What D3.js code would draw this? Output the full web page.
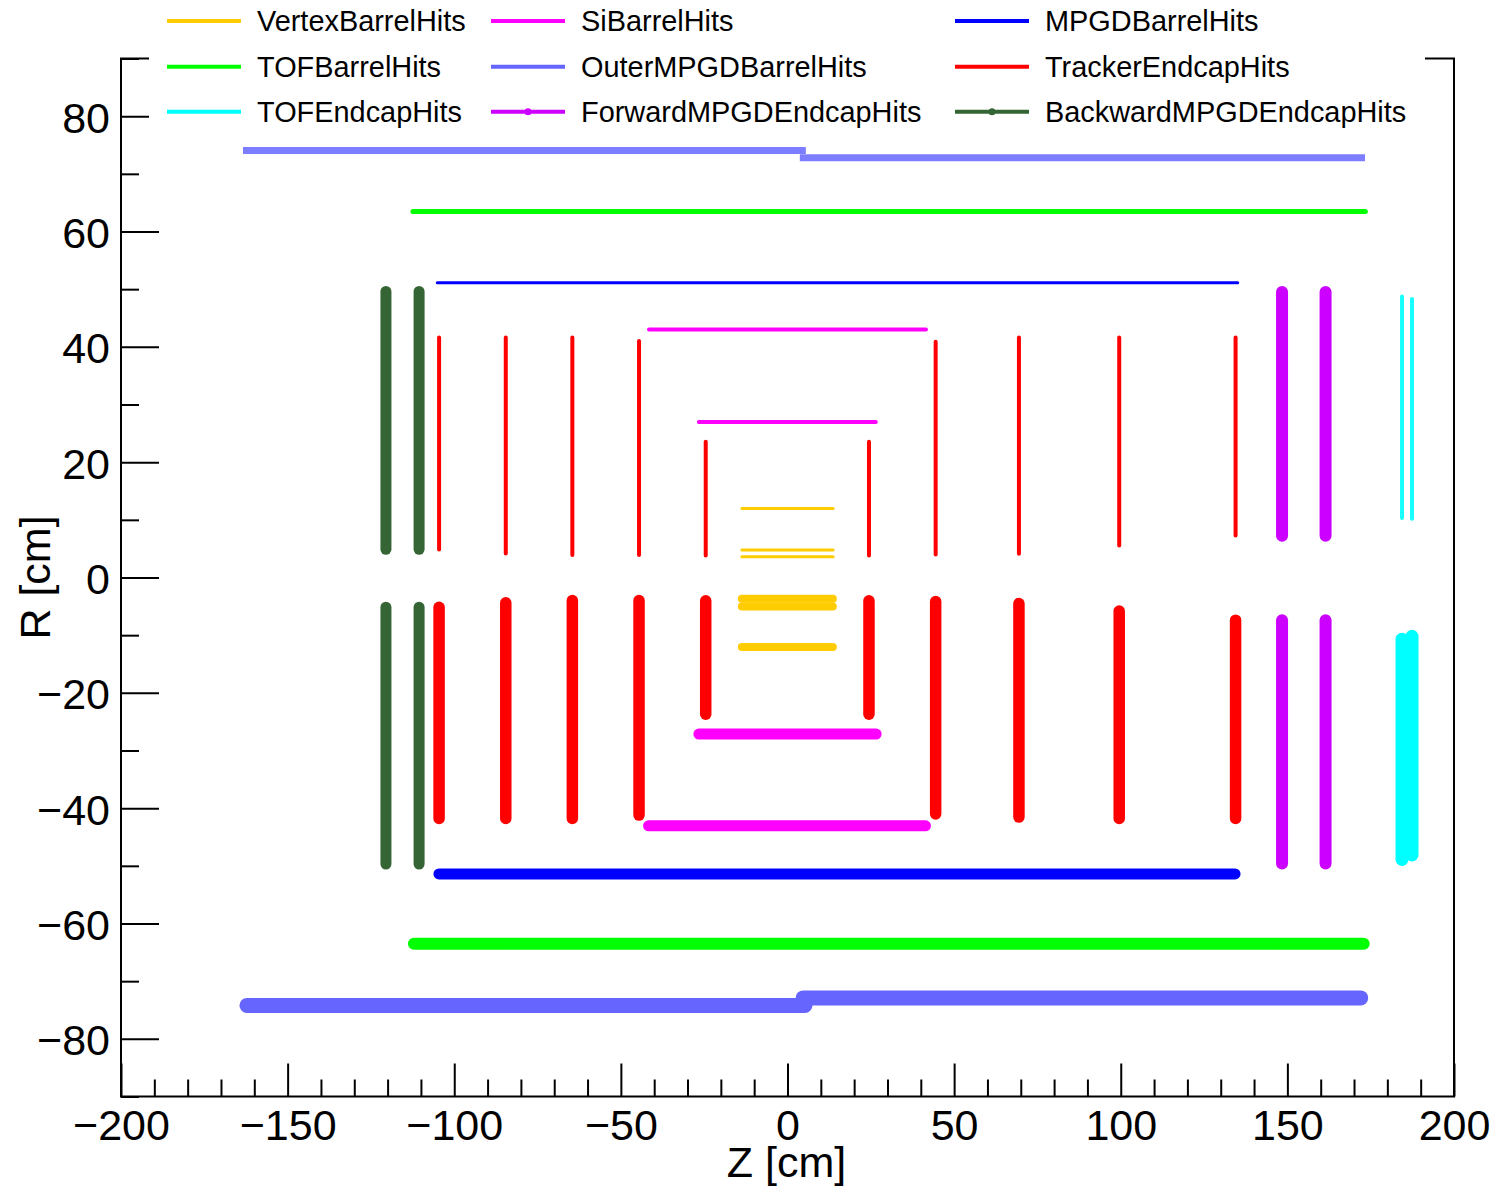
<!DOCTYPE html>
<html>
<head>
<meta charset="utf-8">
<script src="https://cdn.jsdelivr.net/npm/d3@7"></script>
<style>
  html, body { margin: 0; padding: 0; background: #fff; }
  svg { display: block; }
  text { font-family: "Liberation Sans", Arial, Helvetica, sans-serif; fill: #000; }
</style>
</head>
<body>
<div id="chart"></div>
<script>
// ---------------- DATA (z0, z1, r0, r1 in cm) ----------------
const detectorNames = [
  "VertexBarrelHits", "SiBarrelHits", "MPGDBarrelHits",
  "TOFBarrelHits", "OuterMPGDBarrelHits", "TrackerEndcapHits",
  "TOFEndcapHits", "ForwardMPGDEndcapHits", "BackwardMPGDEndcapHits"
];

const vertexBarrelHits = [
  [-13.7, 13.7, 11.98, 11.98],
  [-13.7, 13.7, 4.76, 4.76],
  [-13.7, 13.7, 3.6, 3.6],
  [-13.7, 13.6, -3.69, -3.69],
  [-13.7, 13.6, -5.02, -5.02],
  [-13.7, 13.6, -12.07, -12.07]
];
const siBarrelHits = [
  [-41.55, 41.55, 43.0, 43.0],
  [-26.6, 26.5, 26.97, 26.97],
  [-41.7, 41.4, -43.07, -43.07],
  [-26.6, 26.6, -27.16, -27.16]
];
const mpgdBarrelHits = [
  [-105.1, 135.1, 51.1, 51.1],
  [-104.6, 134.3, -51.4, -51.4]
];
const tofBarrelHits = [
  [-112.4, 173.4, 63.45, 63.45],
  [-112.1, 172.9, -63.5, -63.5]
];
const outerMPGDBarrelHits = [
  [-163.4, 5.5, 74.04, 74.04],
  [3.7, 173.3, 72.8, 72.8],
  [-162.2, 5.25, -74.2, -74.2],
  [4.7, 172.0, -72.9, -72.9]
];
const trackerEndcapHits = [
  [-104.55, -104.55, 41.6, 4.87],
  [-84.54, -84.54, 41.6, 4.17],
  [-64.56, -64.56, 41.6, 3.9],
  [-44.55, -44.55, 41.0, 3.9],
  [-24.54, -24.54, 23.55, 3.83],
  [24.45, 24.45, 23.55, 3.83],
  [44.46, 44.46, 40.9, 4.0],
  [69.45, 69.45, 41.6, 4.1],
  [99.54, 99.54, 41.6, 5.56],
  [134.46, 134.46, 41.6, 7.3],
  [-104.55, -104.55, -5.16, -41.8],
  [-84.54, -84.54, -4.4, -41.8],
  [-64.56, -64.56, -4.0, -41.8],
  [-44.55, -44.55, -4.0, -41.2],
  [-24.54, -24.54, -4.05, -23.7],
  [24.45, 24.45, -4.05, -23.7],
  [44.46, 44.46, -4.16, -41.0],
  [69.45, 69.45, -4.5, -41.55],
  [99.54, 99.54, -5.8, -41.8],
  [134.46, 134.46, -7.4, -41.8]
];
const tofEndcapHits = [
  [184.4, 184.4, 48.75, 10.3],
  [187.4, 187.4, 48.3, 10.2],
  [184.4, 184.4, -10.7, -48.9],
  [187.4, 187.4, -10.2, -48.1]
];
const forwardMPGDEndcapHits = [
  [148.4, 148.4, 49.5, 7.26],
  [161.46, 161.46, 49.5, 7.26],
  [148.4, 148.4, -7.43, -49.6],
  [161.46, 161.46, -7.43, -49.6]
];
const backwardMPGDEndcapHits = [
  [-120.5, -120.5, 49.6, 4.9],
  [-110.55, -110.55, 49.6, 4.9],
  [-120.5, -120.5, -5.16, -49.7],
  [-110.55, -110.55, -5.16, -49.7]
];

const xTicks = [-200, -150, -100, -50, 0, 50, 100, 150, 200];
const yTicks = [-80, -60, -40, -20, 0, 20, 40, 60, 80];
const xTitle = "Z [cm]";
const yTitle = "R [cm]";

// ---------------- STYLE ----------------
const detectorData = [vertexBarrelHits, siBarrelHits, mpgdBarrelHits, tofBarrelHits,
  outerMPGDBarrelHits, trackerEndcapHits, tofEndcapHits, forwardMPGDEndcapHits, backwardMPGDEndcapHits];
const styles = {
  VertexBarrelHits:       { color: "#ffcc00", up: 3,   down: 8,    capUp: "round", opUp: 1 },
  SiBarrelHits:           { color: "#ff00ff", up: 4,   down: 11,   capUp: "round", opUp: 1 },
  MPGDBarrelHits:         { color: "#0000ff", up: 3,   down: 11,   capUp: "round", opUp: 1 },
  TOFBarrelHits:          { color: "#00ff00", up: 5,   down: 12,   capUp: "round", opUp: 1 },
  OuterMPGDBarrelHits:    { color: "#6666ff", up: 7,   down: 15,   capUp: "butt",  opUp: 0.85 },
  TrackerEndcapHits:      { color: "#ff0000", up: 4,   down: 11.5, capUp: "round", opUp: 1 },
  TOFEndcapHits:          { color: "#00ffff", up: 4,   down: 13,   capUp: "round", opUp: 0.9 },
  ForwardMPGDEndcapHits:  { color: "#cc00ff", up: 12,  down: 12,   capUp: "round", opUp: 1, marker: true },
  BackwardMPGDEndcapHits: { color: "#356535", up: 11,  down: 11,   capUp: "round", opUp: 1, marker: true }
};

const W = 1499, H = 1186;
const svg = d3.select("#chart").append("svg").attr("width", W).attr("height", H);

const x = d3.scaleLinear().domain([-200, 200]).range([121, 1454]);
const y = d3.scaleLinear().domain([-90, 90]).range([1096.5, 58.5]);

const fontAxis = 43;

// Bottom axis (ticks inside)
const xMinor = d3.range(-200, 201, 10).filter(v => v % 50 !== 0);
const gxMinor = svg.append("g").attr("transform", `translate(0,${y(-90)})`)
  .call(d3.axisBottom(x).tickValues(xMinor).tickSize(-17).tickFormat(""));
const gx = svg.append("g").attr("transform", `translate(0,${y(-90)})`)
  .call(d3.axisBottom(x).tickValues(xTicks).tickSize(-33).tickPadding(13));
[gxMinor, gx].forEach(g => {
  g.select(".domain").remove();
  g.selectAll(".tick line").attr("stroke", "#000").attr("stroke-width", 2);
});
gx.selectAll(".tick text").attr("font-size", fontAxis).attr("fill", "#000")
  .style("font-family", "'Liberation Sans', Arial, sans-serif");

// Left axis
const yMinor = d3.range(-90, 91, 10).filter(v => v % 20 !== 0);
const gyMinor = svg.append("g").attr("transform", `translate(${x(-200)},0)`)
  .call(d3.axisLeft(y).tickValues(yMinor).tickSize(-18).tickFormat(""));
const gy = svg.append("g").attr("transform", `translate(${x(-200)},0)`)
  .call(d3.axisLeft(y).tickValues(yTicks).tickSize(-38).tickPadding(11));
[gyMinor, gy].forEach(g => {
  g.select(".domain").remove();
  g.selectAll(".tick line").attr("stroke", "#000").attr("stroke-width", 2);
});
gy.selectAll(".tick text").attr("font-size", fontAxis).attr("fill", "#000").attr("dy", "0.37em")
  .style("font-family", "'Liberation Sans', Arial, sans-serif");

// Frame
svg.append("rect")
  .attr("x", x(-200)).attr("y", y(90))
  .attr("width", x(200) - x(-200)).attr("height", y(-90) - y(90))
  .attr("fill", "none").attr("stroke", "#000").attr("stroke-width", 2);

// Axis titles
svg.append("text").attr("x", (x(-200) + x(200)) / 2 - 1).attr("y", 1177)
  .attr("text-anchor", "middle").attr("font-size", fontAxis).text(xTitle);
svg.append("text").attr("transform", `translate(50,${y(0)}) rotate(-90)`)
  .attr("text-anchor", "middle").attr("font-size", fontAxis).text(yTitle);

// Data
const gData = svg.append("g");
detectorNames.forEach((name, i) => {
  const st = styles[name];
  const segs = detectorData[i];
  gData.append("g").selectAll("line").data(segs).join("line")
    .attr("x1", d => x(d[0])).attr("x2", d => x(d[1]))
    .attr("y1", d => y(d[2])).attr("y2", d => y(d[3]))
    .attr("stroke", st.color)
    .attr("stroke-opacity", d => (d[2] + d[3]) > 0 ? st.opUp : 1)
    .attr("stroke-width", d => (d[2] + d[3]) > 0 ? st.up : st.down)
    .attr("stroke-linecap", d => (d[2] + d[3]) > 0 ? st.capUp : "round");
});

// Legend
const legend = svg.append("g");
legend.append("rect").attr("x", 149).attr("y", 0).attr("width", 1425 - 149).attr("height", 136)
  .attr("fill", "#fff");
const colX = [167, 491, 955];
const rowY = [21, 66.7, 111.7];
detectorNames.forEach((name, i) => {
  const st = styles[name];
  const cx = colX[i % 3], cy = rowY[Math.floor(i / 3)];
  legend.append("line").attr("x1", cx).attr("x2", cx + 74).attr("y1", cy).attr("y2", cy)
    .attr("stroke", st.color).attr("stroke-width", 4);
  if (st.marker) {
    legend.append("circle").attr("cx", cx + 37).attr("cy", cy).attr("r", 3.5).attr("fill", st.color);
  }
  legend.append("text").attr("x", cx + 90).attr("y", cy + 10).attr("font-size", 28.9).text(name);
});
</script>
</body>
</html>
